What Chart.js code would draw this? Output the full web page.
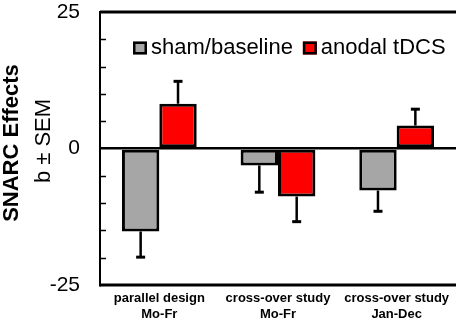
<!DOCTYPE html>
<html>
<head>
<meta charset="utf-8">
<script src="https://cdn.jsdelivr.net/npm/chart.js@4.4.1/dist/chart.umd.min.js"></script>
<style>
  html, body { margin: 0; padding: 0; background: #fff; }
  #wrap { width: 459px; height: 321px; }
</style>
</head>
<body>
<div id="wrap"><canvas id="chart" width="459" height="321"></canvas></div>
<script>
const categories = [["parallel design", "Mo-Fr"], ["cross-over study", "Mo-Fr"], ["cross-over study", "Jan-Dec"]];
const shamValues = [-15.2, -3.1, -7.7];
const shamSem = [4.7, 4.9, 3.8];
const tdcsValues = [8.2, -8.8, 4.2];
const tdcsSem = [4.1, 4.6, 3.0];
const yTickLabels = [-25, 0, 25];

const FONT = "'Liberation Sans', Arial, sans-serif";

// one-sided error bars, pointing away from zero
const errorBars = {
  id: 'errorBars',
  afterDatasetsDraw(chart) {
    const ctx = chart.ctx;
    const y = chart.scales.y;
    chart.data.datasets.forEach((ds, i) => {
      chart.getDatasetMeta(i).data.forEach((bar, j) => {
        const v = ds.data[j];
        const end = v + (v >= 0 ? ds.sem[j] : -ds.sem[j]);
        const y0 = y.getPixelForValue(v);
        const y1 = y.getPixelForValue(end);
        ctx.save();
        ctx.strokeStyle = '#000';
        ctx.lineWidth = 2.5;
        ctx.beginPath();
        ctx.moveTo(bar.x, y0);
        ctx.lineTo(bar.x, y1);
        ctx.stroke();
        ctx.lineWidth = 3;
        ctx.beginPath();
        ctx.moveTo(bar.x - 4.5, y1);
        ctx.lineTo(bar.x + 4.5, y1);
        ctx.stroke();
        ctx.restore();
      });
    });
  }
};

// frame lines, inward minor ticks, legend inside the plot, two-line axis title
const decorations = {
  id: 'decorations',
  afterDraw(chart) {
    const ctx = chart.ctx;
    const y = chart.scales.y;
    const area = chart.chartArea;
    ctx.save();
    ctx.setLineDash([]);
    ctx.strokeStyle = '#000';
    ctx.lineWidth = 3;
    [y.max, y.min].forEach(v => {
      const py = y.getPixelForValue(v);
      ctx.beginPath();
      ctx.moveTo(area.left, py);
      ctx.lineTo(area.right, py);
      ctx.stroke();
    });

    ctx.lineWidth = 1.5;
    for (let v = -20; v <= 20; v += 5) {
      if (v === 0) continue;
      const py = Math.round(y.getPixelForValue(v)) + 0.5;
      ctx.beginPath();
      ctx.moveTo(area.left, py);
      ctx.lineTo(area.left + 6, py);
      ctx.stroke();
    }

    // legend
    ctx.font = '22px ' + FONT;
    ctx.textBaseline = 'middle';
    let lx = area.left + 33;
    const ly = 48;
    chart.data.datasets.forEach(ds => {
      ctx.fillStyle = ds.backgroundColor;
      ctx.fillRect(lx, ly - 6.5, 14, 13);
      ctx.lineWidth = 2.5;
      ctx.strokeRect(lx + 1.25, ly - 5.25, 11.5, 10.5);
      ctx.fillStyle = '#000';
      ctx.fillText(ds.label, lx + 18, ly);
      lx += 18 + ctx.measureText(ds.label).width + 10;
    });

    // y title
    ctx.fillStyle = '#000';
    ctx.textAlign = 'center';
    ctx.textBaseline = 'alphabetic';
    ctx.translate(17.5, 143);
    ctx.rotate(-Math.PI / 2);
    ctx.font = 'bold 22px ' + FONT;
    ctx.fillText('SNARC Effects', 0, 0);
    ctx.font = '22px ' + FONT;
    ctx.fillText('b \u00b1 SEM', 2, 32.5);
    ctx.restore();
  }
};

new Chart(document.getElementById('chart'), {
  type: 'bar',
  data: {
    labels: categories,
    datasets: [
      { label: 'sham/baseline', data: shamValues, sem: shamSem, backgroundColor: '#a6a6a6', borderColor: '#000', borderWidth: 3, borderSkipped: false },
      { label: 'anodal tDCS', data: tdcsValues, sem: tdcsSem, backgroundColor: '#ff0000', borderColor: '#000', borderWidth: 3, borderSkipped: false }
    ]
  },
  options: {
    responsive: false,
    animation: false,
    layout: { padding: { top: 12, right: 3, left: 0, bottom: 0 } },
    datasets: { bar: { categoryPercentage: 0.63, barPercentage: 1.0 } },
    plugins: { legend: { display: false }, tooltip: { enabled: false } },
    scales: {
      x: {
        grid: { display: false, drawTicks: false },
        border: { display: false },
        ticks: { color: '#000', padding: 6, font: { family: FONT, size: 13, weight: 'bold', lineHeight: 1.2 } },
        afterFit(scale) { scale.height = 36; }
      },
      y: {
        min: -25,
        max: 25,
        ticks: {
          stepSize: 5,
          autoSkip: false,
          padding: 20,
          color: '#000',
          font: { family: FONT, size: 21 },
          callback: v => yTickLabels.includes(v) ? v : ''
        },
        grid: {
          drawTicks: false,
          color: c => (c.tick && c.tick.value === 0) ? '#000' : 'rgba(0,0,0,0)',
          lineWidth: 2.5
        },
        border: { display: true, color: '#000', width: 2 },
        afterFit(scale) {
          scale.width = 100;
          scale.paddingTop = 12;
          scale.paddingBottom = 0;
        }
      }
    }
  },
  plugins: [errorBars, decorations]
});
</script>
</body>
</html>
